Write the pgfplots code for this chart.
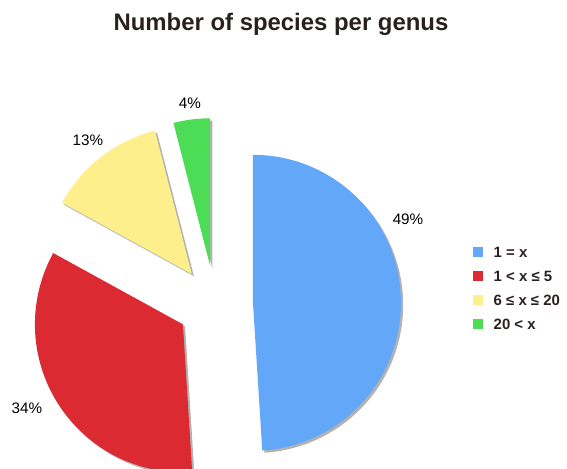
\documentclass[border=0pt]{standalone}
\usepackage{fontspec}
\setmainfont{Liberation Sans}
\usepackage{pgfplots}
\usepackage{pgfplotstable}
\pgfplotsset{compat=1.18}

\definecolor{sliceblue}{HTML}{62A7F8}
\definecolor{slicered}{HTML}{DC2A32}
\definecolor{sliceyellow}{HTML}{FDEF8C}
\definecolor{slicegreen}{HTML}{4DDC55}
\definecolor{inkdark}{HTML}{2A2020}

% share in percent, slice colour, label position, legend text
\pgfplotstableread[col sep=comma]{
share,colour,lx,ly,name
49,sliceblue,408,250,1 = x
34,slicered,27,61,1 < x ≤ 5
13,sliceyellow,88,329,6 ≤ x ≤ 20
4,slicegreen,190,366,20 < x
}\genustable

% pie centre, radius and explode distance (axis units = bp)
\def\cx{215}
\def\cy{165}
\def\R{148}
\def\explode{38}
\newcommand\pctfont{\fontsize{15.3}{18}\selectfont}

\begin{document}
\begin{tikzpicture}
\begin{axis}[
  at={(0,0)}, anchor=south west,
  width=567bp, height=469bp, scale only axis,
  xmin=0, xmax=567, ymin=0, ymax=469,
  axis lines=none,
  legend cell align=left,
  legend style={at={(axis cs:473,222)}, anchor=north west, draw=none, fill=none,
    inner sep=0pt, font=\bfseries\fontsize{15}{18}\selectfont, text=inkdark,
    row sep=13.5bp, column sep=11bp,
    nodes={inner sep=0pt, text height=10.5bp, text depth=0bp}},
  legend image code/.code={\fill[#1] (0bp,-5bp) rectangle (9.5bp,5bp);},
]
\pgfmathsetmacro\acc{0}
\pgfplotsforeachungrouped \i in {0,...,3}{%
  \pgfplotstablegetelem{\i}{share}\of\genustable \let\share\pgfplotsretval
  \pgfplotstablegetelem{\i}{colour}\of\genustable \let\colour\pgfplotsretval
  \pgfplotstablegetelem{\i}{lx}\of\genustable \let\lx\pgfplotsretval
  \pgfplotstablegetelem{\i}{ly}\of\genustable \let\ly\pgfplotsretval
  \pgfplotstablegetelem{\i}{name}\of\genustable \let\name\pgfplotsretval
  \pgfmathsetmacro\angA{3.6*\acc}
  \pgfmathsetmacro\angB{3.6*(\acc+\share)}
  \pgfmathsetmacro\angM{0.5*(\angA+\angB)}
  \pgfmathsetmacro\ox{\cx+\explode*sin(\angM)}
  \pgfmathsetmacro\oy{\cy+\explode*cos(\angM)}
  \pgfmathsetmacro\sx{\ox+2.2}
  \pgfmathsetmacro\sy{\oy-2.2}
  \edef\doslice{%
    \noexpand\addplot[forget plot, fill=black!30, draw=none, domain=\angA:\angB, samples=90]
      ({\sx+\R*sin(x)},{\sy+\R*cos(x)}) -- (axis cs:\sx,\sy) -- cycle;
    \noexpand\addplot[fill=\colour, draw=none, domain=\angA:\angB, samples=90]
      ({\ox+\R*sin(x)},{\oy+\R*cos(x)}) -- (axis cs:\ox,\oy) -- cycle;
    \noexpand\addlegendentry{\name}
    \noexpand\node[font=\noexpand\pctfont, text=black] at (axis cs:\lx,\ly) {\share\noexpand\%};
  }%
  \doslice
  \pgfmathsetmacro\acc{\acc+\share}
}
\node[font=\bfseries\fontsize{24}{28}\selectfont, text=inkdark] at (axis cs:281,445) {Number of species per genus};
\end{axis}
\pgfresetboundingbox
\path (0,0) rectangle (567bp,469bp);
\end{tikzpicture}
\end{document}
